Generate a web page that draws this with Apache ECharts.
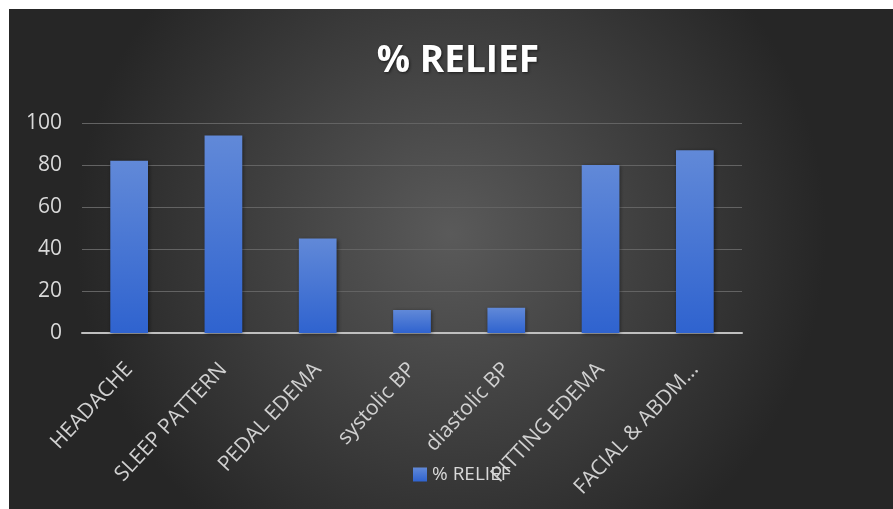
<!DOCTYPE html>
<html>
<head>
<meta charset="utf-8">
<script src="https://cdn.jsdelivr.net/npm/echarts@6/dist/echarts.min.js"></script>
<style>
html,body{margin:0;padding:0;background:#ffffff;width:893px;height:509px;overflow:hidden;}
#c{position:absolute;left:9px;top:9px;width:884px;height:500px;}
</style>
</head>
<body>
<div id="c"></div>
<script>
const titleText = '% RELIEF';
const seriesName = '% RELIEF';
const categories = ['HEADACHE','SLEEP PATTERN','PEDAL EDEMA','systolic BP','diastolic BP','PITTING EDEMA','FACIAL & ABDM...'];
const values = [82, 94, 45, 11, 12, 80, 87];
const yTicks = {min: 0, max: 100, interval: 20};

const chart = echarts.init(document.getElementById('c'));
chart.setOption({
  backgroundColor: {
    type: 'radial', x: 0.5, y: 0.45, r: 0.75,
    colorStops: [{offset: 0, color: '#5a5a5a'}, {offset: 1, color: '#262626'}]
  },
  animation: false,
  title: {
    text: titleText,
    left: 444, top: 29, textAlign: 'center',
    textStyle: {
      color: '#ffffff', fontSize: 37, fontWeight: 'bold', fontFamily: 'Open Sans',
      textShadowColor: 'rgba(0,0,0,0.6)', textShadowBlur: 3, textShadowOffsetX: 1, textShadowOffsetY: 1
    }
  },
  legend: {
    data: [seriesName],
    left: 399, top: 451,
    itemWidth: 14, itemHeight: 14, itemGap: 6,
    icon: 'rect',
    textStyle: {color: '#d9d9d9', fontSize: 19, fontFamily: 'Open Sans'}
  },
  grid: {left: 73, right: 151, top: 114, bottom: 176, containLabel: false},
  xAxis: {
    type: 'category',
    data: categories,
    axisLine: {lineStyle: {color: '#bfbfbf', width: 2}},
    axisTick: {show: false},
    axisLabel: {
      rotate: 47, interval: 0, margin: 33,
      color: '#d0d0d0', fontSize: 21, fontFamily: 'Open Sans'
    }
  },
  yAxis: {
    type: 'value',
    min: yTicks.min, max: yTicks.max, interval: yTicks.interval,
    axisLine: {show: false},
    axisTick: {show: false},
    axisLabel: {color: '#d9d9d9', fontSize: 21, margin: 20, fontFamily: 'Open Sans'},
    splitLine: {lineStyle: {color: '#636363', width: 1}}
  },
  series: [{
    name: seriesName,
    type: 'bar',
    data: values,
    barWidth: '40%',
    itemStyle: {
      color: {
        type: 'linear', x: 0, y: 0, x2: 0, y2: 1,
        colorStops: [{offset: 0, color: '#6189d8'}, {offset: 1, color: '#2f63cf'}]
      },
      shadowColor: 'rgba(0,0,0,0.5)', shadowBlur: 4, shadowOffsetX: 1, shadowOffsetY: 1
    }
  }]
});
</script>
</body>
</html>
